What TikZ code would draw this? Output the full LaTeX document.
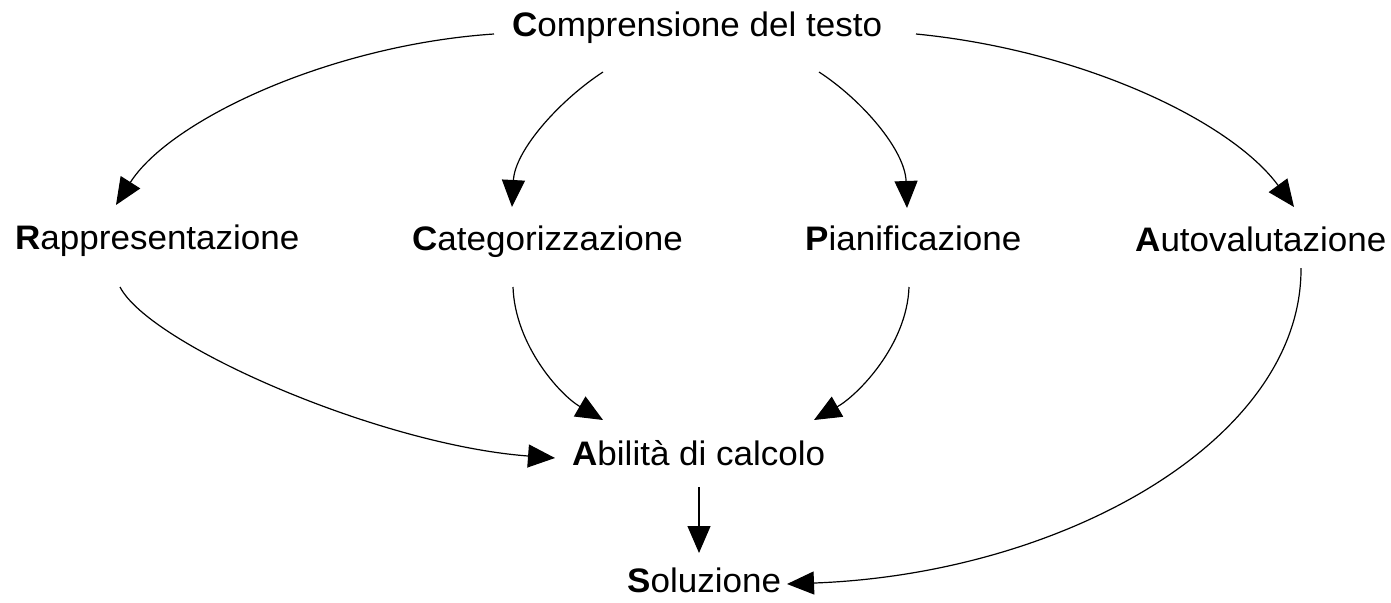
\documentclass[tikz,border=0pt]{standalone}
\usepackage{fontspec}
\setmainfont[FakeStretch=1.03]{Liberation Sans}
\usetikzlibrary{arrows.meta,calc}
\begin{document}
\begin{tikzpicture}[x=1pt,y=-1pt,
  lab/.style={inner sep=0pt,anchor=base west,font=\fontsize{34}{40}\selectfont},
  conn/.style={line width=1.2pt,-{Triangle[length=27pt,width=23pt]}}]
\useasboundingbox[fill=white] (0,0) rectangle (1391,602);
\node[lab] (comp) at (512,37) {\textbf{C}omprensione del testo};
\node[lab] (rap) at (15,249) {\textbf{R}appresentazione};
\node[lab] (cat) at (412,250) {\textbf{C}ategorizzazione};
\node[lab] (pia) at (805,250) {\textbf{P}ianificazione};
\node[lab] (aut) at (1135,251) {\textbf{A}utovalutazione};
\node[lab] (abi) at (572,465) {\textbf{A}bilità di calcolo};
\node[lab] (sol) at (627,592) {\textbf{S}oluzione};
\draw[conn] ($(comp.base west)+(-18,-3)$) .. controls +(-164,11) and +(54,-85) .. ($(rap.base west)+(101,-44)$);
\draw[conn] ($(comp.base west)+(91,35)$) .. controls +(-43,28) and +(3,-57) .. ($(cat.base west)+(100,-43)$);
\draw[conn] ($(comp.base west)+(307,35)$) .. controls +(43,28) and +(-2,-58) .. ($(pia.base west)+(102,-42)$);
\draw[conn] ($(comp.base west)+(404,-3)$) .. controls +(164,16) and +(-64,-87) .. ($(aut.base west)+(159,-44)$);
\draw[conn] ($(rap.base west)+(105,38)$) .. controls +(30,58) and +(-175,-13) .. ($(abi.base west)+(-17,-7)$);
\draw[conn] ($(cat.base west)+(101,37)$) .. controls +(2,58) and +(-43,-25) .. ($(abi.base west)+(31,-45)$);
\draw[conn] ($(pia.base west)+(104,37)$) .. controls +(-2,58) and +(44,-25) .. ($(abi.base west)+(242,-45)$);
\draw[conn] ($(abi.base west)+(127,22)$) -- ($(sol.base west)+(72,-39)$);
\draw[conn] ($(aut.base west)+(166,17)$) .. controls +(1,172) and +(276,-10) .. ($(sol.base west)+(160,-8)$);
\end{tikzpicture}
\end{document}
